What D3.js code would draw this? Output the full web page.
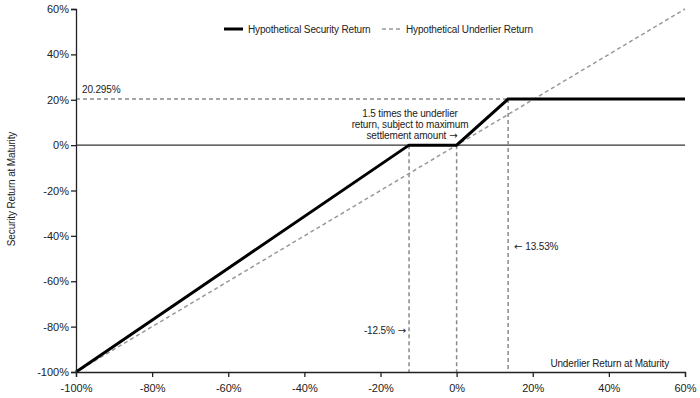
<!DOCTYPE html>
<html>
<head>
<meta charset="utf-8">
<script src="https://cdn.jsdelivr.net/npm/d3@7"></script>
<style>
	body { margin: 0; background: #fff; }
	svg { display: block; font-family: "Liberation Sans", Arial, sans-serif; }
	.axis path, .axis line { stroke: #222; stroke-width: 1.3; }
	.axis text { font-size: 11px; fill: #222; }
	.note { font-size: 10px; letter-spacing: -0.15px; fill: #222; }
	.arrow { font-family: "DejaVu Sans", sans-serif; font-size: 10px; }
</style>
</head>
<body>
<div id="chartCtn"></div>
<script>
// data
const xTicks = [ -100, -80, -60, -40, -20, 0, 20, 40, 60 ];
const yTicks = [ -100, -80, -60, -40, -20, 0, 20, 40, 60 ];
const securityX = [ -100, -12.5, 0, 13.53, 60 ];
const securityY = [ -100, 0, 0, 20.295, 20.295 ];
const underlierX = [ -100, 60 ];
const underlierY = [ -100, 60 ];
const capLevel = 20.295;
const bufferX = -12.5;
const capX = 13.53;
const seriesNames = [ "Hypothetical Security Return", "Hypothetical Underlier Return" ];

const width = 700, height = 398;
const padLeft = 76, padRight = 685, padTop = 9, padBottom = 372;

const xScale = d3.scaleLinear().domain( [ -100, 60 ] ).range( [ padLeft, padRight ] );
const yScale = d3.scaleLinear().domain( [ -100, 60 ] ).range( [ padBottom, padTop ] );

const chart = d3.select( "#chartCtn" )
	.append( "svg" )
	.attr( "width", width )
	.attr( "height", height );

const line = d3.line().x( d => xScale( d[0] ) ).y( d => yScale( d[1] ) );
const dashColor = "#8a8a8a";

// zero line
chart.append( "line" )
	.attr( "x1", xScale( -100 ) ).attr( "x2", xScale( 60 ) )
	.attr( "y1", yScale( 0 ) ).attr( "y2", yScale( 0 ) )
	.attr( "stroke", "#333" ).attr( "stroke-width", 1.2 );

// reference dashed lines
chart.append( "path" )
	.attr( "d", line( [ [ -100, capLevel ], [ capX, capLevel ] ] ) )
	.attr( "fill", "none" ).attr( "stroke", dashColor )
	.attr( "stroke-width", 1.5 ).attr( "stroke-dasharray", "4,3" );

[ [ bufferX, 0 ], [ 0, 0 ], [ capX, capLevel ] ].forEach( d => {
	chart.append( "path" )
		.attr( "d", line( [ [ d[0], d[1] ], [ d[0], -100 ] ] ) )
		.attr( "fill", "none" ).attr( "stroke", dashColor )
		.attr( "stroke-width", 1.5 ).attr( "stroke-dasharray", "4,3" );
} );

// underlier
chart.append( "path" )
	.attr( "d", line( d3.zip( underlierX, underlierY ) ) )
	.attr( "fill", "none" ).attr( "stroke", "#999" )
	.attr( "stroke-width", 1.5 ).attr( "stroke-dasharray", "4,3" );

// security
chart.append( "path" )
	.attr( "d", line( d3.zip( securityX, securityY ) ) )
	.attr( "fill", "none" ).attr( "stroke", "#000" )
	.attr( "stroke-width", 3 );

// axes
chart.append( "g" )
	.attr( "class", "axis" )
	.attr( "transform", `translate(0, ${ padBottom })` )
	.call( d3.axisBottom( xScale ).tickValues( xTicks ).tickFormat( d => d + "%" ).tickSizeOuter( 0 ).tickSize( 5 ) )
	.selectAll( "text" ).attr( "dy", "1.1em" );

chart.append( "g" )
	.attr( "class", "axis" )
	.attr( "transform", `translate(${ padLeft }, 0)` )
	.call( d3.axisLeft( yScale ).tickValues( yTicks ).tickFormat( d => d + "%" ).tickSizeOuter( 0 ).tickSize( 5 ) )
	.selectAll( "text" ).attr( "dx", "1px" );

// axis titles
chart.append( "text" )
	.attr( "class", "note" )
	.attr( "x", 669 ).attr( "y", 367 )
	.attr( "text-anchor", "end" )
	.text( "Underlier Return at Maturity" );

chart.append( "text" )
	.attr( "class", "note" )
	.attr( "transform", "translate(15, 189) rotate(-90)" )
	.attr( "text-anchor", "middle" )
	.text( "Security Return at Maturity" );

// annotations
const note = ( x, y, txt, anchor, arrow, arrowFirst ) => {
	const t = chart.append( "text" )
		.attr( "class", "note" )
		.attr( "x", x ).attr( "y", y )
		.attr( "text-anchor", anchor || "start" );
	if ( arrow && arrowFirst ) {
		t.append( "tspan" ).attr( "class", "arrow" ).text( arrow + " " );
	}
	t.append( "tspan" ).text( txt );
	if ( arrow && !arrowFirst ) {
		t.append( "tspan" ).attr( "class", "arrow" ).text( " " + arrow );
	}
	return t;
};

note( 82, 93, "20.295%" );
note( 410, 117, "1.5 times the underlier", "middle" );
note( 410, 128, "return, subject to maximum", "middle" );
note( 412, 139, "settlement amount", "middle", "\u2192" );
note( 514, 250, "13.53%", "start", "\u2190", true );
note( 406, 334, "-12.5%", "end", "\u2192" );

// legend
const legend = chart.append( "g" ).attr( "transform", "translate(224, 29)" );
legend.append( "line" ).attr( "x1", 0 ).attr( "x2", 19 ).attr( "y1", 0 ).attr( "y2", 0 )
	.attr( "stroke", "#000" ).attr( "stroke-width", 3 );
legend.append( "text" ).attr( "class", "note" ).attr( "x", 24 ).attr( "y", 4 )
	.text( seriesNames[0] );
legend.append( "line" ).attr( "x1", 158 ).attr( "x2", 177 ).attr( "y1", 0 ).attr( "y2", 0 )
	.attr( "stroke", "#999" ).attr( "stroke-width", 1.5 ).attr( "stroke-dasharray", "4,3" );
legend.append( "text" ).attr( "class", "note" ).attr( "x", 182 ).attr( "y", 4 )
	.text( seriesNames[1] );
</script>
</body>
</html>
